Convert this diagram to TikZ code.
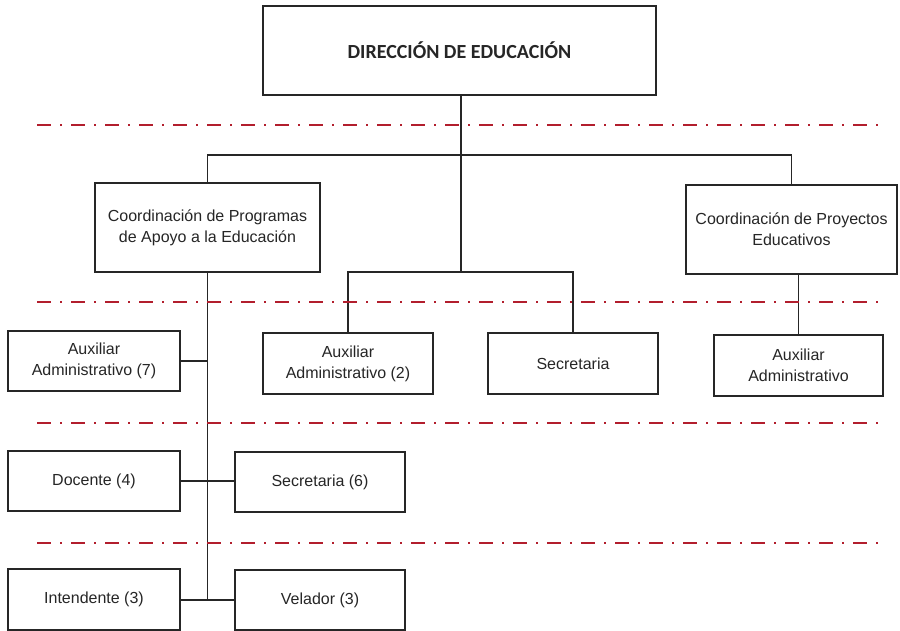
\documentclass[tikz,border=0pt]{standalone}
\usepackage{fontspec}
\setmainfont{Liberation Sans}
\newfontfamily\titlefont{Carlito}
\begin{document}
\begin{tikzpicture}[x=1pt,y=-1pt,
  box/.style={draw=black!85,line width=1.5pt,fill=white,align=center,inner sep=0pt,font=\fontsize{16}{21}\selectfont,text=black!85},
  conn/.style={draw=black!85,line width=1.5pt},
  sep/.style={draw={rgb,255:red,178;green,30;blue,45},line width=2.2pt,dash pattern=on 14pt off 9pt on 2pt off 9pt}]
\useasboundingbox (0,0) rectangle (900,630);
\fill[white] (0,0) rectangle (900,630);
% separators
\coordinate (s1a) at (37,125); \coordinate (s1b) at (885,125);
\coordinate (s2a) at (37,302); \coordinate (s2b) at (885,302);
\coordinate (s3a) at (37,423); \coordinate (s3b) at (885,423);
\coordinate (s4a) at (37,543); \coordinate (s4b) at (885,543);
% nodes
\node[box,minimum width=393pt,minimum height=89pt,font=\titlefont\bfseries\fontsize{20}{24}\selectfont] (dir) at (459.5,50.5) {DIRECCIÓN DE EDUCACIÓN};
\node[box,minimum width=225pt,minimum height=89pt] (cpa) at (207.5,227.5) {Coordinación de Programas\\de Apoyo a la Educación};
\node[box,minimum width=211pt,minimum height=89pt] (cpe) at (791.5,229.5) {Coordinación de Proyectos\\Educativos};
\node[box,minimum width=172pt,minimum height=60pt] (aux7) at (94,361) {Auxiliar\\Administrativo (7)};
\node[box,minimum width=170pt,minimum height=61pt] (aux2) at (348,363.5) {Auxiliar\\Administrativo (2)};
\node[box,minimum width=170pt,minimum height=61pt] (sec) at (573,363.5) {Secretaria};
\node[box,minimum width=169pt,minimum height=61pt] (auxr) at (798.5,365.5) {Auxiliar\\Administrativo};
\node[box,minimum width=172pt,minimum height=60pt] (doc) at (94,481) {Docente (4)};
\node[box,minimum width=170pt,minimum height=60pt] (sec6) at (320,482) {Secretaria (6)};
\node[box,minimum width=172pt,minimum height=61pt] (int) at (94,599.5) {Intendente (3)};
\node[box,minimum width=170pt,minimum height=60pt] (vel) at (320,600) {Velador (3)};
% connectors
\coordinate (j1) at (461,155);
\coordinate (j2) at (461,272);
\draw[conn] (dir.south -| j1) -- (j2);
\draw[conn] (cpa.north) |- (j1) -| (cpe.north);
\draw[conn] (aux2.north) |- (j2) -| (sec.north);
\draw[conn] (cpe.south -| auxr.north) -- (auxr.north);
\coordinate (lb) at (207.5,600);
\draw[conn] (cpa.south) -- (lb);
\draw[conn] (aux7.east) -- (aux7.east -| lb);
\draw[conn] (doc.east) -- (doc.east -| sec6.west);
\draw[conn] (vel.west -| int.east) -- (vel.west);
% separators drawn
\draw[sep] (s1a) -- (s1b);
\draw[sep] (s2a) -- (s2b);
\draw[sep] (s3a) -- (s3b);
\draw[sep] (s4a) -- (s4b);
\end{tikzpicture}
\end{document}
